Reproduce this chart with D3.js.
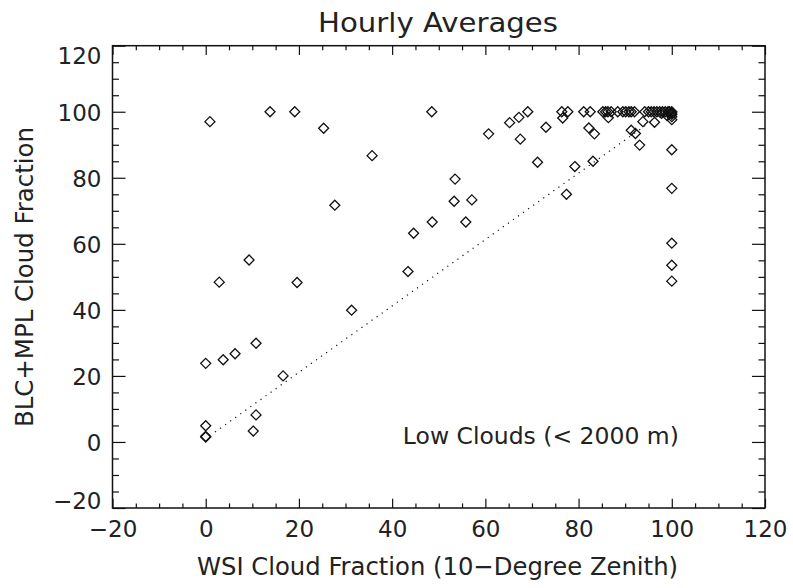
<!DOCTYPE html>
<html>
<head>
<meta charset="utf-8">
<script src="https://cdn.jsdelivr.net/npm/d3@7"></script>
<style>
  body { margin: 0; background: #fff; }
  text { font-family: "DejaVu Sans", sans-serif; fill: #222; }
</style>
</head>
<body>
<div id="chart"></div>
<script>
// WSI cloud fraction (x) vs BLC+MPL cloud fraction (y), hourly averages
var wsiFrac = [0.9, 13.8, 19.1, 25.3, 35.7, 27.7, 9.3, 2.9, 19.6, 31.3,
  10.8, 0, 3.75, 6.3, 16.6, 10.8, 10.2, 0, 0, 0,
  48.5, 60.7, 65.2, 67.2, 69.1, 67.5, 73.0, 71.2, 53.5, 53.3,
  57.1, 55.8, 48.6, 44.6, 43.4, 77.4, 79.2, 83.1, 82.2, 83.4,
  76.4, 77.7, 76.6, 81.1, 82.5, 85.2, 85.8, 86.3, 87.0, 86.4,
  88.4, 89.5, 90.1, 90.8, 91.3, 92.0, 94.2, 95.0, 95.6, 96.2,
  96.8, 97.4, 97.8, 98.0, 98.6, 99.0, 99.2, 99.5, 100, 100,
  100, 100, 100, 91.3, 92.2, 93.1, 93.8, 96.3, 100, 100,
  100, 100, 100];
var blcFrac = [97.0, 100, 100, 95.0, 86.7, 71.7, 55.1, 48.4, 48.3, 39.9,
  29.9, 23.8, 24.9, 26.7, 20.0, 8.2, 3.3, 4.9, 1.7, 1.5,
  100, 93.3, 96.7, 98.3, 100, 91.7, 95.3, 84.7, 79.6, 72.9,
  73.3, 66.6, 66.6, 63.2, 51.6, 75.0, 83.4, 85.0, 95.1, 93.3,
  100, 100, 98.1, 100, 100, 100, 100, 100, 100, 98.2,
  100, 100, 100, 100, 100, 100, 100, 100, 100, 100,
  100, 100, 99.5, 100, 100, 98.8, 100, 100, 100, 99.6,
  99.2, 98.5, 97.6, 94.4, 93.4, 89.9, 97.0, 96.8, 88.5, 76.8,
  60.2, 53.5, 48.7];
var fitLine = [[2, 3], [96, 97.5]];
var xTicks = [-20, 0, 20, 40, 60, 80, 100, 120];
var yTicks = [-20, 0, 20, 40, 60, 80, 100, 120];
var labelText = "Low Clouds (< 2000 m)";

var width = 793, height = 588;
var plotLeft = 112.5, plotRight = 765, plotTop = 45.7, plotBottom = 508;

var svg = d3.select("#chart").append("svg")
  .attr("width", width).attr("height", height);

var x = d3.scaleLinear().domain([-20, 120]).range([plotLeft, plotRight]);
var y = d3.scaleLinear().domain([-20, 120]).range([plotBottom, plotTop]);

var minorX = d3.range(-20, 121, 5).filter(function(d) { return d % 20 != 0; });
var minorY = minorX;
var fmt = function(d) { return d < 0 ? "\u2212" + Math.abs(d) : String(d); };

var xLen = 0.02 * (plotBottom - plotTop), yLen = 0.02 * (plotRight - plotLeft);

// ticks, all four sides, pointing inward
function tickG(axis, tx, ty) {
  var g = svg.append("g").attr("transform", "translate(" + tx + "," + ty + ")").call(axis);
  g.select(".domain").remove();
  g.selectAll("line").attr("stroke", "#111").attr("stroke-width", 1.2);
  return g;
}
var gx = tickG(d3.axisBottom(x).tickValues(xTicks).tickSize(-xLen).tickFormat(fmt), 0, plotBottom);
tickG(d3.axisBottom(x).tickValues(minorX).tickSize(-xLen / 2).tickFormat(""), 0, plotBottom);
tickG(d3.axisTop(x).tickValues(xTicks).tickSize(-xLen).tickFormat(""), 0, plotTop);
tickG(d3.axisTop(x).tickValues(minorX).tickSize(-xLen / 2).tickFormat(""), 0, plotTop);
var gy = tickG(d3.axisLeft(y).tickValues(yTicks).tickSize(-yLen).tickFormat(fmt), plotLeft, 0);
tickG(d3.axisLeft(y).tickValues(minorY).tickSize(-yLen / 2).tickFormat(""), plotLeft, 0);
tickG(d3.axisRight(y).tickValues(yTicks).tickSize(-yLen).tickFormat(""), plotRight, 0);
tickG(d3.axisRight(y).tickValues(minorY).tickSize(-yLen / 2).tickFormat(""), plotRight, 0);

gx.selectAll("text")
  .attr("y", 29).attr("dy", 0)
  .style("font-size", "23px").style("font-family", "DejaVu Sans").attr("fill", "#222");
gy.selectAll("text")
  .attr("x", -11)
  .attr("dy", function(d) { return d == 120 ? 17.6 : (d == -20 ? 0 : 8.4); })
  .style("font-size", "23px").style("font-family", "DejaVu Sans").attr("fill", "#222");

// frame
svg.append("rect")
  .attr("x", plotLeft).attr("y", plotTop)
  .attr("width", plotRight - plotLeft).attr("height", plotBottom - plotTop)
  .attr("fill", "none").attr("stroke", "#111").attr("stroke-width", 1.5);

// dotted fit line
svg.append("path")
  .attr("d", d3.line().x(function(d) { return x(d[0]); }).y(function(d) { return y(d[1]); })(fitLine))
  .attr("fill", "none").attr("stroke", "#111").attr("stroke-width", 1.2)
  .attr("stroke-dasharray", "1.2,5");

// diamonds
var pts = wsiFrac.map(function(d, i) { return [d, blcFrac[i]]; });
svg.selectAll(".pt").data(pts).enter().append("path")
  .attr("class", "pt")
  .attr("d", function(d) {
    var cx = x(d[0]), cy = y(d[1]), r = 5;
    return "M" + cx + "," + (cy - r) + "L" + (cx + r) + "," + cy + "L" + cx + "," + (cy + r) + "L" + (cx - r) + "," + cy + "Z";
  })
  .attr("fill", "none").attr("stroke", "#111").attr("stroke-width", 1.3);

// titles
svg.append("text").attr("x", 438).attr("y", 32.3)
  .attr("text-anchor", "middle").style("font-size", "27px")
  .attr("textLength", 240).attr("lengthAdjust", "spacingAndGlyphs")
  .text("Hourly Averages");
svg.append("text").attr("x", 437.5).attr("y", 575)
  .attr("text-anchor", "middle").style("font-size", "25px")
  .attr("textLength", 481).attr("lengthAdjust", "spacingAndGlyphs")
  .text("WSI Cloud Fraction (10\u2212Degree Zenith)");
svg.append("text")
  .attr("transform", "translate(33,277) rotate(-90)")
  .attr("text-anchor", "middle").style("font-size", "25px")
  .attr("textLength", 300).attr("lengthAdjust", "spacingAndGlyphs")
  .text("BLC+MPL Cloud Fraction");
svg.append("text").attr("x", x(42.3)).attr("y", y(-0.5))
  .style("font-size", "23px")
  .attr("textLength", 276).attr("lengthAdjust", "spacingAndGlyphs")
  .text(labelText);
</script>
</body>
</html>
